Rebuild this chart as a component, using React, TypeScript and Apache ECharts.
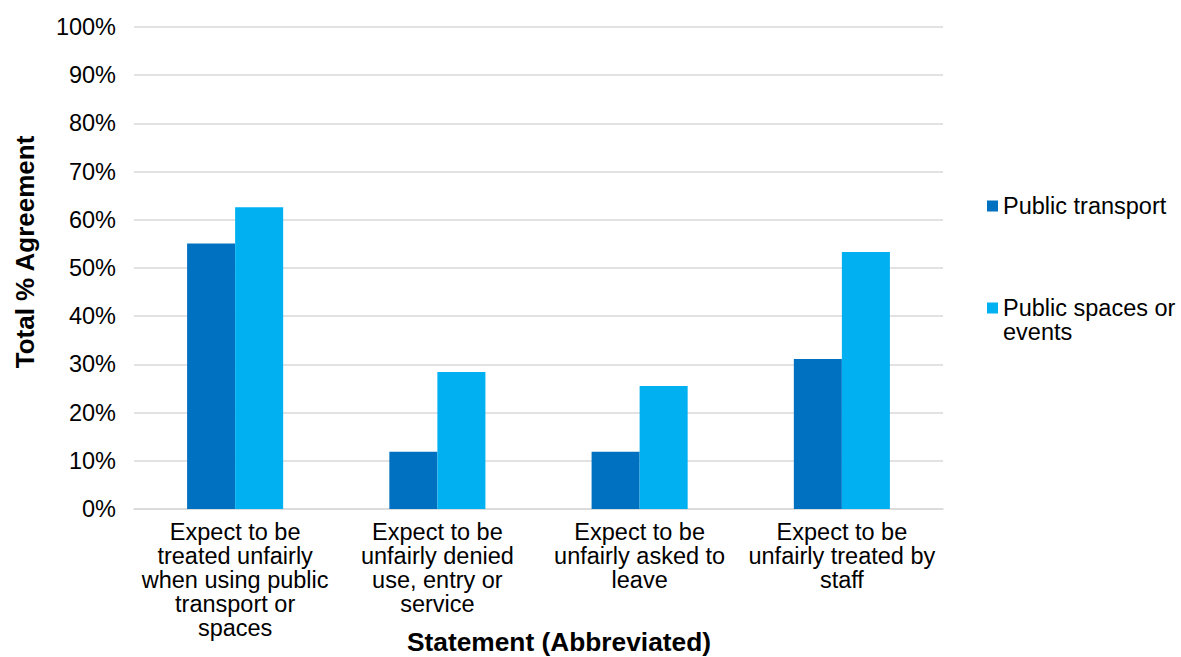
import React, { useEffect, useRef } from "react";
import * as echarts from "echarts";

const categories = [
  "Expect to be\ntreated unfairly\nwhen using public\ntransport or\nspaces",
  "Expect to be\nunfairly denied\nuse, entry or\nservice",
  "Expect to be\nunfairly asked to\nleave",
  "Expect to be\nunfairly treated by\nstaff",
];
const seriesNames = ["Public transport", "Public spaces or events"];
const publicTransport = [55.1, 11.9, 11.9, 31.1];
const publicSpaces = [62.6, 28.4, 25.5, 53.3];
const yTicks = { min: 0, max: 100, interval: 10 };
const yTitle = "Total % Agreement";
const xTitle = "Statement (Abbreviated)";

const FONT = "'Liberation Sans', Arial, Helvetica, sans-serif";

export default function App() {
  const ref = useRef<HTMLDivElement>(null);
  useEffect(() => {
    if (!ref.current) return;
    const chart = echarts.init(ref.current, undefined, { renderer: "svg" });
    chart.setOption({
      animation: false,
      backgroundColor: "#ffffff",
      textStyle: { fontFamily: FONT },
      grid: { left: 134, right: 238, top: 27, bottom: 148, containLabel: false },
      legend: {
        orient: "vertical",
        left: 987,
        top: 194,
        padding: 0,
        itemWidth: 11,
        itemHeight: 11,
        itemGap: 54,
        icon: "rect",
        selectedMode: false,
        textStyle: { fontSize: 23.5, lineHeight: 24, color: "#000", fontFamily: FONT },
        data: [{ name: seriesNames[0] }, { name: seriesNames[1] }],
        formatter: (name: string) =>
          name === seriesNames[1] ? "\nPublic spaces or\nevents" : name,
      },
      xAxis: {
        type: "category",
        data: categories,
        axisLine: { show: true, lineStyle: { color: "#D9D9D9", width: 1.5 } },
        axisTick: { show: false },
        axisLabel: {
          interval: 0,
          margin: 11,
          fontSize: 23.5,
          lineHeight: 24,
          color: "#000",
          fontFamily: FONT,
          align: "center",
        },
      },
      yAxis: {
        type: "value",
        min: yTicks.min,
        max: yTicks.max,
        interval: yTicks.interval,
        axisLine: { show: false },
        axisTick: { show: false },
        splitLine: { show: true, lineStyle: { color: "#D9D9D9", width: 1.5 } },
        axisLabel: {
          formatter: "{value}%",
          margin: 18,
          fontSize: 23.5,
          color: "#000",
          fontFamily: FONT,
        },
      },
      series: [
        {
          name: seriesNames[0],
          type: "bar",
          data: publicTransport,
          barGap: "0%",
          barCategoryGap: "52.5%",
          itemStyle: { color: "#0070C0" },
        },
        {
          name: seriesNames[1],
          type: "bar",
          data: publicSpaces,
          barGap: "0%",
          barCategoryGap: "52.5%",
          itemStyle: { color: "#00B0F0" },
        },
      ],
      graphic: [
        {
          type: "text",
          x: 25,
          y: 252,
          rotation: Math.PI / 2,
          style: {
            text: yTitle,
            fontSize: 26,
            fontWeight: "bold",
            fontFamily: FONT,
            fill: "#000",
            align: "center",
            verticalAlign: "middle",
          },
        },
        {
          type: "text",
          x: 559,
          y: 642,
          style: {
            text: xTitle,
            fontSize: 26.3,
            fontWeight: "bold",
            fontFamily: FONT,
            fill: "#000",
            align: "center",
            verticalAlign: "middle",
          },
        },
      ],
    });
    return () => chart.dispose();
  }, []);
  return (
    <div
      ref={ref}
      style={{ position: "fixed", left: 0, top: 0, width: 1181, height: 657 }}
    />
  );
}
